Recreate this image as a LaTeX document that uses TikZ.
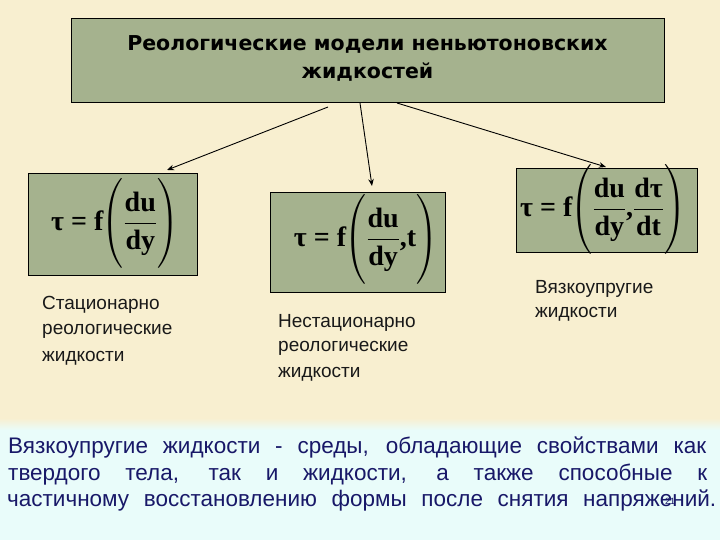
\RequirePackage{fix-cm}
\documentclass[tikz,border=0pt]{standalone}
\usepackage{amsmath}
\usepackage{fontspec}
\setmainfont{Liberation Sans}
\newfontfamily\titlefont{DejaVu Sans}
\newfontfamily\fserif{Liberation Serif}
\newfontfamily\bodyfont{Liberation Sans}
\usetikzlibrary{arrows.meta}
\definecolor{cream}{RGB}{248,239,208}
\definecolor{paleCyan}{RGB}{233,252,250}
\definecolor{boxGreen}{RGB}{165,178,142}
\definecolor{navy}{RGB}{24,24,104}
\newcommand\fm[1]{\text{\fserif\bfseries #1}}
\newcommand\tallstrut{\rule[-39pt]{0pt}{80pt}}
\tikzset{
  greenbox/.style={draw=black, line width=0.8pt, fill=boxGreen, inner sep=0pt},
  formula/.style={inner sep=0pt, font=\fontsize{28}{32}\selectfont},
  label/.style={anchor=base west, inner sep=0pt, font=\fontsize{19}{23}\selectfont, text=black!90},
  bodyline/.style={anchor=base west, inner sep=0pt, font=\bodyfont\fontsize{22.5}{26}\selectfont, text=navy},
  titleline/.style={anchor=base, inner sep=0pt, font=\titlefont\bfseries\fontsize{20.5}{24}\selectfont},
  conn/.style={line width=0.9pt, -{Stealth[length=7pt,width=5.5pt]}}
}
\begin{document}
\begin{tikzpicture}[x=1pt,y=-1pt]
\useasboundingbox (0,0) rectangle (720,540);
% background
\fill[cream] (0,0) rectangle (720,418);
\shade[top color=cream, bottom color=paleCyan] (0,418) rectangle (720,430);
\fill[paleCyan] (0,430) rectangle (720,540);

% title
\node[greenbox, minimum width=593pt, minimum height=84pt] (title) at (367.5,60) {};
\node[titleline] (t1) at (367.5,51) {Реологические модели неньютоновских};
\node[titleline] (t2) at (367.5,79) {жидкостей};

% formula boxes
\node[greenbox, minimum width=169pt, minimum height=102pt] (box1) at (112.5,224) {};
\node[greenbox, minimum width=175pt, minimum height=100pt] (box2) at (357.5,242) {};
\node[greenbox, minimum width=181pt, minimum height=84pt] (box3) at (606.5,210) {};

\node[formula] (f1) at (115,224) {$\fm{τ = f}\mkern-4mu\left(\tallstrut\dfrac{\fm{du}}{\fm{dy}}\right)$};
\node[formula] (f2) at (366,240) {$\fm{τ = f}\mkern-4mu\left(\tallstrut\dfrac{\fm{du}}{\fm{dy}}\fm{,t}\right)$};
\node[formula] (f3) at (603,210) {$\fm{τ = f}\mkern-4mu\left(\tallstrut\dfrac{\fm{du}}{\fm{dy}}\fm{,}\dfrac{\fm{dτ}}{\fm{dt}}\right)$};

% connectors
\coordinate (s1) at (328,107);
\coordinate (e1) at (167,170);
\coordinate (s2) at (360,103);
\coordinate (e2) at (372,186);
\coordinate (s3) at (397,103);
\coordinate (e3) at (606,167);
\draw[conn] (s1) -- (e1);
\draw[conn] (s2) -- (e2);
\draw[conn] (s3) -- (e3);

% labels
\node[label] (l1a) at (42,309) {Стационарно};
\node[label] (l1b) at (42,334) {реологические};
\node[label] (l1c) at (42,361) {жидкости};
\node[label] (l2a) at (278,327) {Нестационарно};
\node[label] (l2b) at (278,351) {реологические};
\node[label] (l2c) at (278,377) {жидкости};
\node[label] (l3a) at (535,293) {Вязкоупругие};
\node[label] (l3b) at (535,317) {жидкости};

% bottom text
\node[bodyline] (b1) at (8,453) {\makebox[698pt][s]{Вязкоупругие жидкости - среды, обладающие свойствами как}};
\node[bodyline] (b2) at (8,480) {\makebox[699pt][s]{твердого тела, так и жидкости, а также способные к}};
\node[bodyline] (b3) at (7,506) {\makebox[709pt][s]{частичному восстановлению формы после снятия напряжений.}};
\node[anchor=base, inner sep=0pt, font=\fontsize{9}{9}\selectfont, text=navy] (num) at (670,504) {21};
\end{tikzpicture}
\end{document}
